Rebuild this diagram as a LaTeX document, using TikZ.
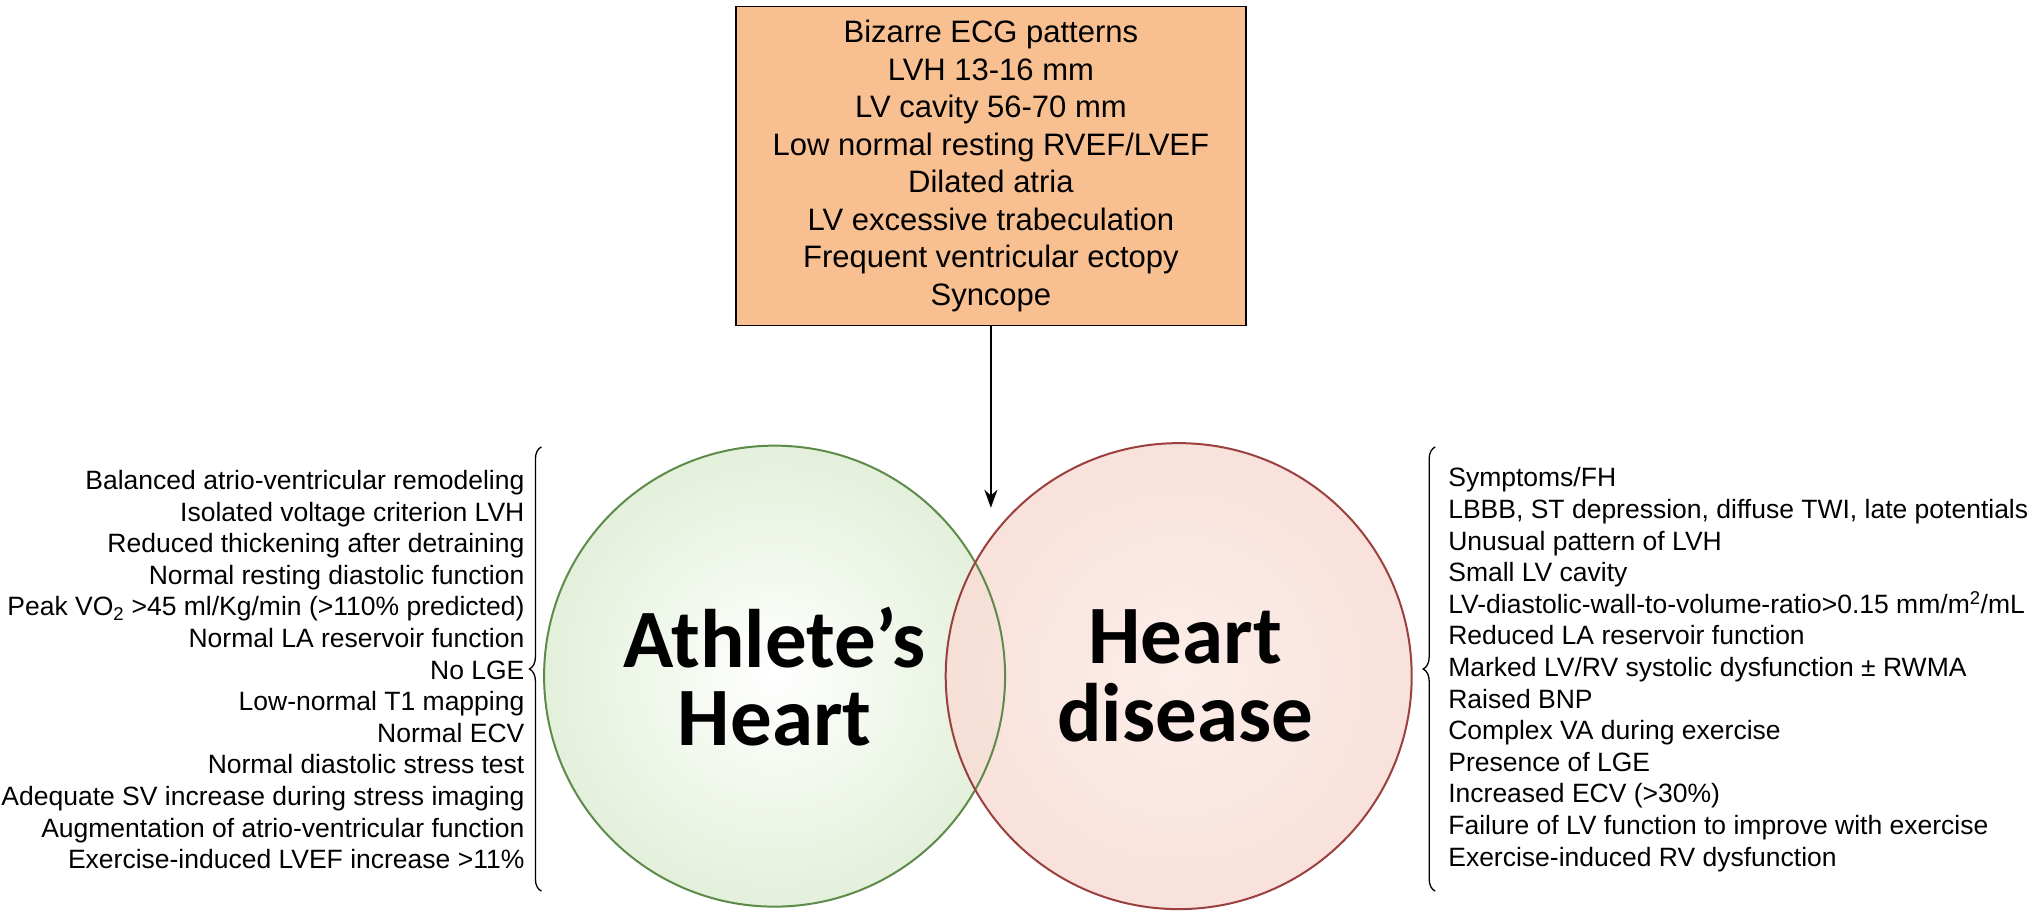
\documentclass[tikz,border=0pt]{standalone}
\usepackage{fontspec}
\setmainfont{Liberation Sans}
\newfontfamily\boldf{Carlito}
\usetikzlibrary{decorations.pathreplacing,arrows.meta}
\definecolor{boxor}{HTML}{F8BF90}
\definecolor{grn}{HTML}{5E8A4A}
\definecolor{grnf}{HTML}{E3F0DA}
\definecolor{redb}{HTML}{C0504D}
\definecolor{redf}{HTML}{F9DDD5}
\tikzset{
  listtxt/.style={font=\fontsize{26.5}{31.6}\selectfont, inner sep=0pt},
  bigtxt/.style={font=\boldf\bfseries\fontsize{83}{78}\selectfont, align=center},
  brc/.style={draw=black, line width=1.3pt, decorate, decoration={brace, amplitude=12pt}}
}
\begin{document}
\begin{tikzpicture}[x=1.2953pt,y=-1.2953pt]
\useasboundingbox (0,0) rectangle (1568,710.3);
\fill[fill=white] (0,0) rectangle (1568,710.3);
\node[draw=black, line width=1.5pt, fill=boxor, minimum width=510pt, minimum height=319pt, align=center,
  font=\fontsize{31}{37.5}\selectfont] (top) at (765,128)
 {Bizarre ECG patterns\\LVH 13-16 mm\\LV cavity 56-70 mm\\Low normal resting RVEF/LVEF\\Dilated atria\\LV excessive trabeculation\\Frequent ventricular ectopy\\Syncope};
\shade[inner color=white, outer color=grnf] (598,522) circle (178);
\shade[inner color=redf!60, outer color=redf, fill opacity=0.85] (910,522) circle (180);
\node[draw=grn, line width=2pt, circle, minimum size=461pt, inner sep=0pt] (ath) at (598,522) {};
\node[draw=redb!80!black, line width=2pt, circle, minimum size=466pt, inner sep=0pt] (dis) at (910,522) {};
\coordinate (tip) at (765,392);
\draw[line width=2.5pt, -{Stealth[length=18pt,width=13pt]}] (top.south) -- (tip);
\node[bigtxt] (athl) at (598,522) {Athlete’s\\Heart};
\node[bigtxt] (disl) at (915,522) {Heart\\disease};
\node[listtxt, align=right, anchor=east] (left) at (405,517) {Balanced atrio-ventricular remodeling\\Isolated voltage criterion LVH\\Reduced thickening after detraining\\Normal resting diastolic function\\Peak VO\textsubscript{2} >45 ml/Kg/min (>110\% predicted)\\Normal LA reservoir function\\No LGE\\Low-normal T1 mapping\\Normal ECV\\Normal diastolic stress test\\Adequate SV increase during stress imaging\\Augmentation of atrio-ventricular function\\Exercise-induced LVEF increase >11\%};
\node[listtxt, align=left, anchor=west] (right) at (1118,517) {Symptoms/FH\\LBBB, ST depression, diffuse TWI, late potentials\\Unusual pattern of LVH\\Small LV cavity\\LV-diastolic-wall-to-volume-ratio>0.15 mm/m\textsuperscript{2}/mL\\Reduced LA reservoir function\\Marked LV/RV systolic dysfunction ± RWMA\\Raised BNP\\Complex VA during exercise\\Presence of LGE\\Increased ECV (>30\%)\\Failure of LV function to improve with exercise\\Exercise-induced RV dysfunction};
\coordinate (lb1) at (418,345); \coordinate (lb2) at (418,688);
\coordinate (rb1) at (1108,688); \coordinate (rb2) at (1108,345);
\draw[brc] (lb2) -- (lb1);
\draw[brc] (rb1) -- (rb2);
\end{tikzpicture}
\end{document}
